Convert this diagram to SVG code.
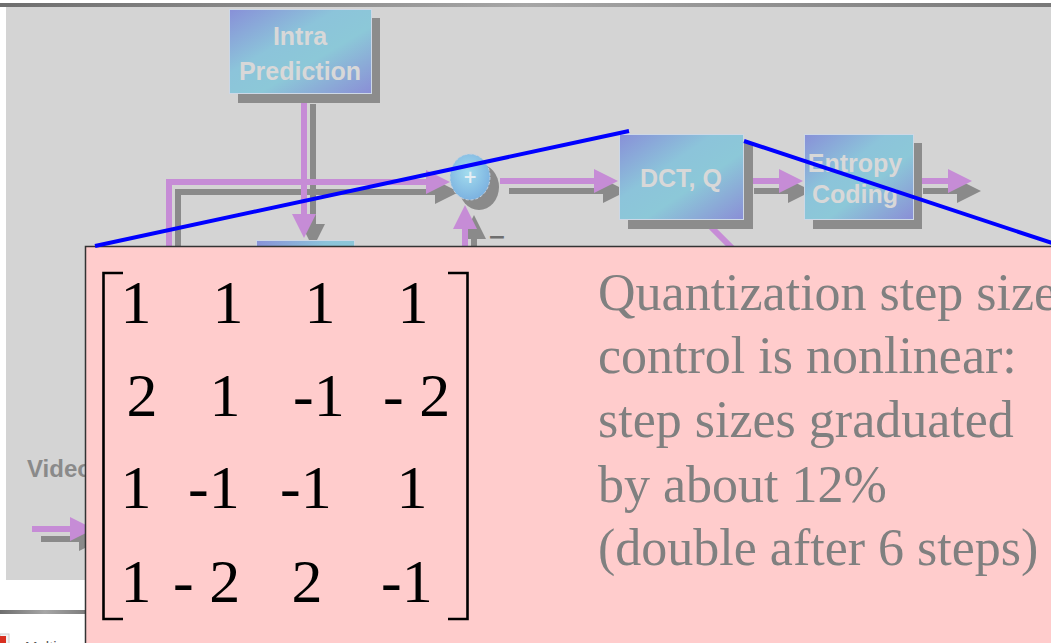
<svg xmlns="http://www.w3.org/2000/svg" xmlns:xlink="http://www.w3.org/1999/xlink" width="1051" height="643" viewBox="0 0 1051 643">
  <style>
    .blk { stroke: #cdd8e6; stroke-width: 1; }
    .shd { fill: #8c8c8c; }
    .lbl { font-family: "Liberation Sans", Arial, sans-serif; font-weight: bold; font-size: 25px; fill: #d8d8d8; text-anchor: middle; }
    .flow { fill: none; stroke: #c68cd6; stroke-width: 6; marker-end: url(#headP); }
    .flowShadow { fill: none; stroke: #8a8a8a; stroke-width: 6; marker-end: url(#headG); }
    .nohead { marker-end: none; }
    .mx { font-family: "Liberation Serif", "Times New Roman", serif; font-size: 62px; fill: #000; }
    .mid { text-anchor: middle; }
    .note { font-family: "Liberation Serif", "Times New Roman", serif; font-size: 52px; fill: #808080; }
    .zoomline { stroke: #0000ff; stroke-width: 4; fill: none; }
  </style>
  <defs>
    <linearGradient id="blockFill" x1="0" y1="0" x2="1" y2="1">
      <stop offset="0" stop-color="#8890d8"/>
      <stop offset="0.38" stop-color="#8cc4da"/>
      <stop offset="0.6" stop-color="#8cc8d8"/>
      <stop offset="1" stop-color="#8a8ed6"/>
    </linearGradient>
    <radialGradient id="sumFill" cx="0.45" cy="0.4" r="0.6">
      <stop offset="0" stop-color="#a2dcee"/>
      <stop offset="1" stop-color="#7cb2e0"/>
    </radialGradient>
    <linearGradient id="barFill" x1="0" y1="0" x2="1" y2="0">
      <stop offset="0" stop-color="#6e6e6e"/>
      <stop offset="0.5" stop-color="#a6a6a6"/>
      <stop offset="1" stop-color="#787878"/>
    </linearGradient>
    <marker id="headP" markerUnits="strokeWidth" markerWidth="4" markerHeight="4" refX="0" refY="2" orient="auto">
      <path d="M0,0 L4,2 L0,4 z" fill="#c68cd6"/>
    </marker>
    <marker id="headG" markerUnits="strokeWidth" markerWidth="4" markerHeight="4" refX="0" refY="2" orient="auto">
      <path d="M0,0 L4,2 L0,4 z" fill="#8a8a8a"/>
    </marker>
    <!-- connector routes, shared by the flow lines and their drop shadows -->
    <path id="routeLoop" d="M169,262 V182 H426"/>
    <path id="routeIntra" d="M304,94 V214"/>
    <path id="routeUp" d="M465,262 V229"/>
    <path id="routeSum" d="M500,181 H594"/>
    <path id="routeDct" d="M745,181 H779"/>
    <path id="routeOut" d="M914,181 H948"/>
    <path id="routeVideo" d="M32,529 H70"/>
    <path id="routeDiag" d="M704,220 L746,262"/>
  </defs>

  <!-- page -->
  <rect width="1051" height="643" fill="#ffffff"/>
  <rect x="0" y="3" width="1051" height="4" fill="url(#barFill)"/>
  <rect x="6" y="7" width="1045" height="573" fill="#d4d4d4"/>
  <rect x="0" y="610" width="90" height="4" fill="url(#barFill)"/>
  <rect x="0" y="634" width="9" height="12" fill="#f4f4f4" stroke="#cccccc" stroke-width="1"/>
  <rect x="0" y="636" width="6" height="10" fill="#d83020"/>
  <text x="25" y="652" font-family="Liberation Sans, Arial, sans-serif" font-size="15" fill="#555555">Multi</text>

  <!-- input label -->
  <text x="27" y="477" font-family="Liberation Sans, Arial, sans-serif" font-weight="bold" font-size="24" fill="#8a8a8a">Video</text>

  <!-- connectors -->
  <g id="connectors">
    <g transform="translate(9,10)">
      <use xlink:href="#routeLoop" class="flowShadow"/>
      <use xlink:href="#routeIntra" class="flowShadow"/>
      <use xlink:href="#routeUp" class="flowShadow"/>
      <use xlink:href="#routeSum" class="flowShadow"/>
      <use xlink:href="#routeDct" class="flowShadow"/>
      <use xlink:href="#routeOut" class="flowShadow"/>
      <use xlink:href="#routeVideo" class="flowShadow"/>
    </g>
    <use xlink:href="#routeLoop" class="flow"/>
    <use xlink:href="#routeIntra" class="flow"/>
    <use xlink:href="#routeUp" class="flow"/>
    <use xlink:href="#routeSum" class="flow"/>
    <use xlink:href="#routeDct" class="flow"/>
    <use xlink:href="#routeOut" class="flow"/>
    <use xlink:href="#routeVideo" class="flow"/>
    <use xlink:href="#routeDiag" class="flow nohead"/>
    <text x="497" y="244" font-family="DejaVu Sans, sans-serif" font-size="22" font-weight="bold" fill="#6e6e6e" text-anchor="middle">−</text>
  </g>

  <!-- blocks -->
  <g id="intra-prediction">
    <rect class="shd" x="238" y="18" width="142" height="85"/>
    <rect class="blk" x="229.5" y="9.5" width="142" height="84" fill="url(#blockFill)"/>
    <text class="lbl" x="300" y="45">Intra</text>
    <text class="lbl" x="300" y="80">Prediction</text>
  </g>

  <g id="mode-block">
    <rect class="blk" x="256.5" y="240.5" width="98" height="60" fill="url(#blockFill)"/>
  </g>

  <g id="sum">
    <ellipse cx="479" cy="187" rx="20" ry="23" fill="#8a8a8a"/>
    <ellipse cx="470" cy="177" rx="20" ry="23" fill="url(#sumFill)" stroke="#c4d2e2" stroke-width="1" stroke-dasharray="3 2"/>
    <text x="470" y="183" font-family="DejaVu Sans, sans-serif" font-size="17" font-weight="bold" fill="#e6eef4" text-anchor="middle">+</text>
  </g>

  <g id="dct-q">
    <rect class="shd" x="628" y="143" width="125" height="86"/>
    <rect class="blk" x="619.5" y="134.5" width="124" height="85" fill="url(#blockFill)"/>
    <text class="lbl" x="681" y="187">DCT, Q</text>
  </g>

  <g id="entropy-coding">
    <rect class="shd" x="813" y="143" width="109" height="86"/>
    <rect class="blk" x="804.5" y="134.5" width="109" height="85" fill="url(#blockFill)"/>
    <text class="lbl" x="855" y="172">Entropy</text>
    <text class="lbl" x="855" y="203">Coding</text>
  </g>

  <!-- callout with the integer transform matrix -->
  <g id="callout">
    <rect x="85.5" y="246.5" width="980" height="410" fill="#ffcccc" stroke="#333333" stroke-width="1.5"/>
    <path d="M123,273 H103.5 V619 H123" fill="none" stroke="#000" stroke-width="2.6"/>
    <path d="M448,273 H467.5 V619 H448" fill="none" stroke="#000" stroke-width="2.6"/>

    <text class="mx mid" x="136" y="323">1</text>
    <text class="mx mid" x="228" y="323">1</text>
    <text class="mx mid" x="320" y="323">1</text>
    <text class="mx mid" x="413" y="323">1</text>

    <text class="mx mid" x="142" y="416">2</text>
    <text class="mx mid" x="225" y="416">1</text>
    <text class="mx" x="293" y="416">-1</text>
    <text class="mx" x="383" y="416">- 2</text>

    <text class="mx mid" x="136" y="508">1</text>
    <text class="mx" x="188" y="508">-1</text>
    <text class="mx" x="280" y="508">-1</text>
    <text class="mx mid" x="412" y="508">1</text>

    <text class="mx mid" x="136" y="602">1</text>
    <text class="mx" x="173" y="602">- 2</text>
    <text class="mx mid" x="307" y="602">2</text>
    <text class="mx" x="381" y="602">-1</text>

    <text class="note" x="598" y="310">Quantization step size</text>
    <text class="note" x="598" y="373">control is nonlinear:</text>
    <text class="note" x="598" y="437">step sizes graduated</text>
    <text class="note" x="598" y="502">by about 12%</text>
    <text class="note" x="598" y="565">(double after 6 steps)</text>
  </g>

  <!-- zoom guide lines from the DCT block to the callout -->
  <g id="zoom-lines">
    <line class="zoomline" x1="95" y1="246" x2="629" y2="131"/>
    <line class="zoomline" x1="744" y1="141" x2="1055" y2="244"/>
  </g>
</svg>
